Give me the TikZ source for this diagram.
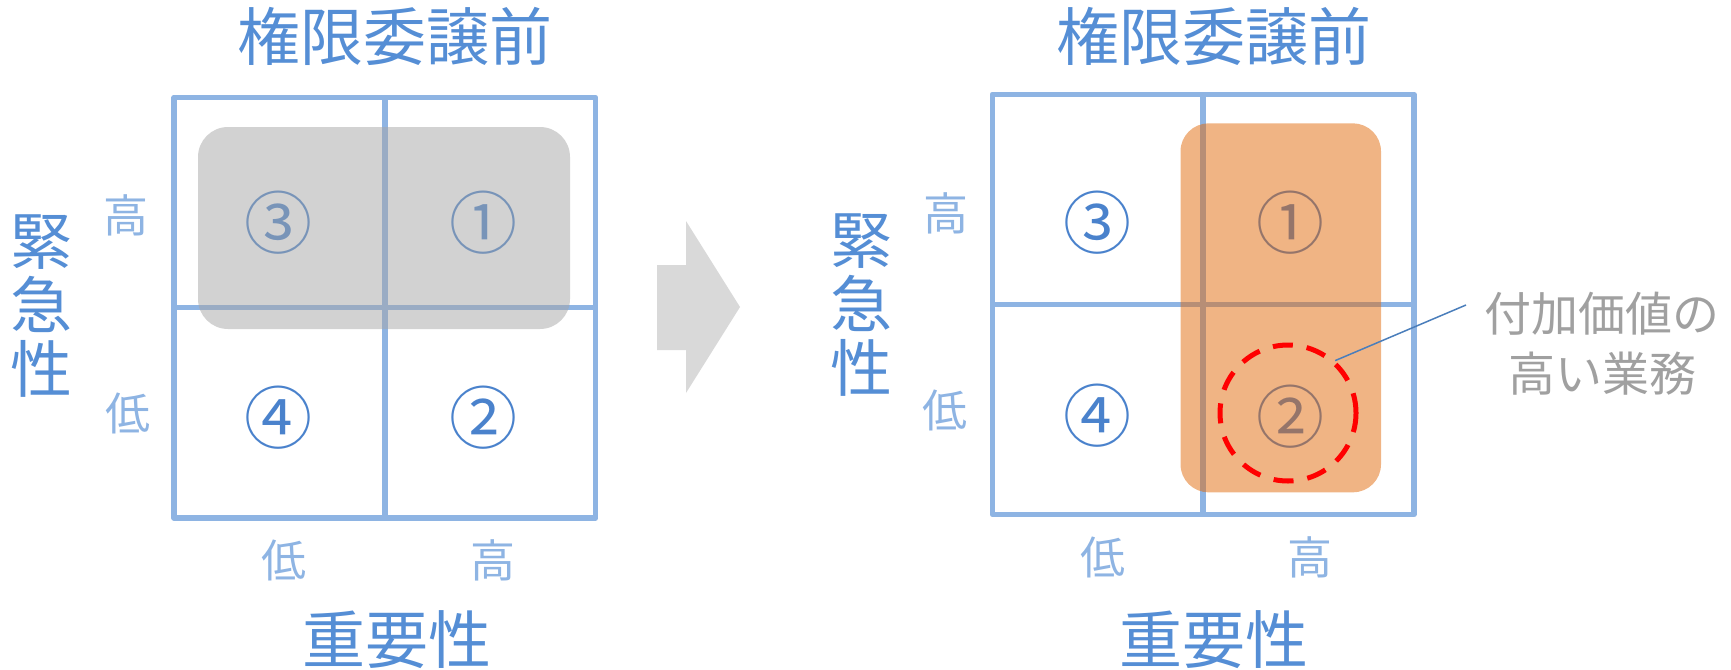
\documentclass[tikz,border=0pt]{standalone}
\usepackage{fontspec}
\newfontfamily\jp{Noto Sans CJK JP}
\definecolor{ttl}{HTML}{558ED5}
\definecolor{lbl}{HTML}{8EB4E3}
\definecolor{grd}{HTML}{8EB4E3}
\definecolor{num}{HTML}{4A82CC}
\definecolor{gfill}{HTML}{A6A6A6}
\definecolor{ofill}{HTML}{E1690A}
\definecolor{arr}{HTML}{D9D9D9}
\definecolor{cgray}{HTML}{A0A0A0}
\definecolor{lead}{HTML}{4A7EBB}
\tikzset{
  ttlst/.style={font=\jp\fontsize{63}{63}\selectfont, text=ttl, inner sep=0pt},
  vaxis/.style={font=\jp\fontsize{62}{64}\selectfont, text=ttl, inner sep=0pt, align=center},
  tick/.style={font=\jp\fontsize{45}{45}\selectfont, text=lbl, inner sep=0pt},
  numst/.style={font=\jp\fontsize{68}{68}\selectfont, text=num, inner sep=0pt},
  gridln/.style={draw=grd, line width=5.5pt, line join=round},
  callout/.style={font=\jp\fontsize{47}{60}\selectfont, text=cgray, align=center, inner sep=0pt},
  hilite/.style={circle, draw=red, line width=5pt, dash pattern=on 20pt off 14pt, minimum size=136pt, inner sep=0pt},
}
\begin{document}
\begin{tikzpicture}[x=1pt,y=-1pt]
\useasboundingbox (0,0) rectangle (1731,669);

% ---------- left panel ----------
\draw[gridln] (174,97.5) rectangle (595.7,518);
\draw[gridln] (384.8,97.5) -- (384.8,518);
\draw[gridln] (174,307.7) -- (595.7,307.7);
\node[numst] (l3) at (278,223) {③};
\node[numst] (l1) at (483,223) {①};
\node[numst] (l4) at (278,418) {④};
\node[numst] (l2) at (483,418) {②};
\fill[gfill, fill opacity=0.5, rounded corners=30pt] (198,127) rectangle (570,329);
\node[ttlst] (lt) at (395,36.4) {権限委譲前};
\node[vaxis] (lv) at (41.2,306.4) {緊\\急\\性};
\node[tick] (lhi) at (126,215.4) {高};
\node[tick] (llo) at (127.5,413.5) {低};
\node[tick] (lblo) at (283.6,560.7) {低};
\node[tick] (lbhi) at (492.6,560.7) {高};
\node[ttlst] (lh) at (396.6,640) {重要性};

% ---------- arrow ----------
\fill[arr] (657,265) -- (686,265) -- (686,221) -- (740,307) -- (686,393) -- (686,350) -- (657,350) -- cycle;

% ---------- right panel ----------
\draw[gridln] (992.3,94.3) rectangle (1414,514.5);
\draw[gridln] (1203,94.3) -- (1203,514.5);
\draw[gridln] (992.3,304.7) -- (1414,304.7);
\node[numst] (r3) at (1097,223) {③};
\node[numst] (r1) at (1290,223) {①};
\node[numst] (r4) at (1097,416) {④};
\node[numst] (r2) at (1290,417) {②};
\fill[ofill, fill opacity=0.5, rounded corners=28pt] (1180.5,123.4) rectangle (1381,492.3);
\node[ttlst] (rt) at (1213.5,36.3) {権限委譲前};
\node[vaxis] (rv) at (861,304.6) {緊\\急\\性};
\node[tick] (rhi) at (945.5,213.5) {高};
\node[tick] (rlo) at (944.7,410.7) {低};
\node[tick] (rblo) at (1102.5,557) {低};
\node[tick] (rbhi) at (1310.4,557) {高};
\node[ttlst] (rh) at (1213.8,640) {重要性};

% ---------- highlight and callout ----------
\node[hilite] (hv) at (1288,413) {};
\node[callout] (ct) at (1602,344) {付加価値の\\高い業務};
\coordinate (le) at (1466,305);
\draw[lead, line width=1.5pt] (hv.48) -- (le);
\end{tikzpicture}
\end{document}
